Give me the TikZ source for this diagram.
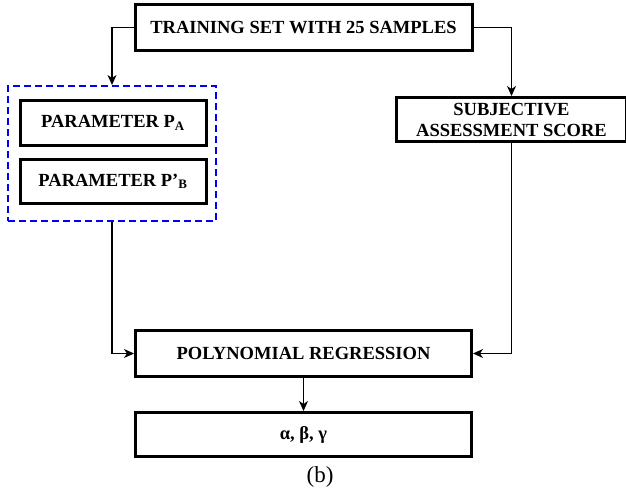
\documentclass[tikz,border=0pt]{standalone}
\usepackage{fontspec}
\setmainfont{Liberation Serif}
\usetikzlibrary{arrows.meta}

\tikzset{
  procbox/.style={draw, line width=3pt, align=center, inner sep=2pt,
    font=\fontsize{18.5}{21}\selectfont\bfseries},
  groupbox/.style={draw=blue, line width=2pt, dash pattern=on 7pt off 4pt},
  flow/.style={-{Stealth[length=10pt,width=9pt,inset=3pt]}, line width=1.3pt}
}

\begin{document}
\begin{tikzpicture}[x=1pt, y=-1pt]
  \useasboundingbox (0,0) rectangle (626,493);

  \node[procbox, minimum width=337pt, minimum height=46pt] (train) at (303.5,27.5)
    {TRAINING SET WITH 25 SAMPLES};

  % left branch
  \node[groupbox, minimum width=208pt, minimum height=135pt] (group) at (112,153.5) {};
  \node[procbox, minimum width=186pt, minimum height=45pt] (paramA) at (113,123)
    {PARAMETER P\textsubscript{A}};
  \node[procbox, minimum width=186pt, minimum height=44pt] (paramB) at (113,181.5)
    {PARAMETER P’\textsubscript{B}};

  % right branch
  \node[procbox, minimum width=230pt, minimum height=44pt] (subj) at (511.5,119.5)
    {SUBJECTIVE\\ASSESSMENT SCORE};

  \node[procbox, minimum width=336pt, minimum height=46pt] (poly) at (303.5,353.5)
    {POLYNOMIAL REGRESSION};
  \node[procbox, minimum width=336pt, minimum height=44pt] (coef) at (303.5,434.5)
    {α, β, γ};

  \node[font=\fontsize{23}{26}\selectfont] (caption) at (320,477) {(b)};

  \draw[flow] (train.west) -| (group.north);
  \draw[flow] (train.east) -| (subj.north);
  \draw[flow] (group.south) |- (poly.west);
  \draw[flow] (subj.south) |- (poly.east);
  \draw[flow] (poly.south) -- (coef.north);
\end{tikzpicture}
\end{document}
